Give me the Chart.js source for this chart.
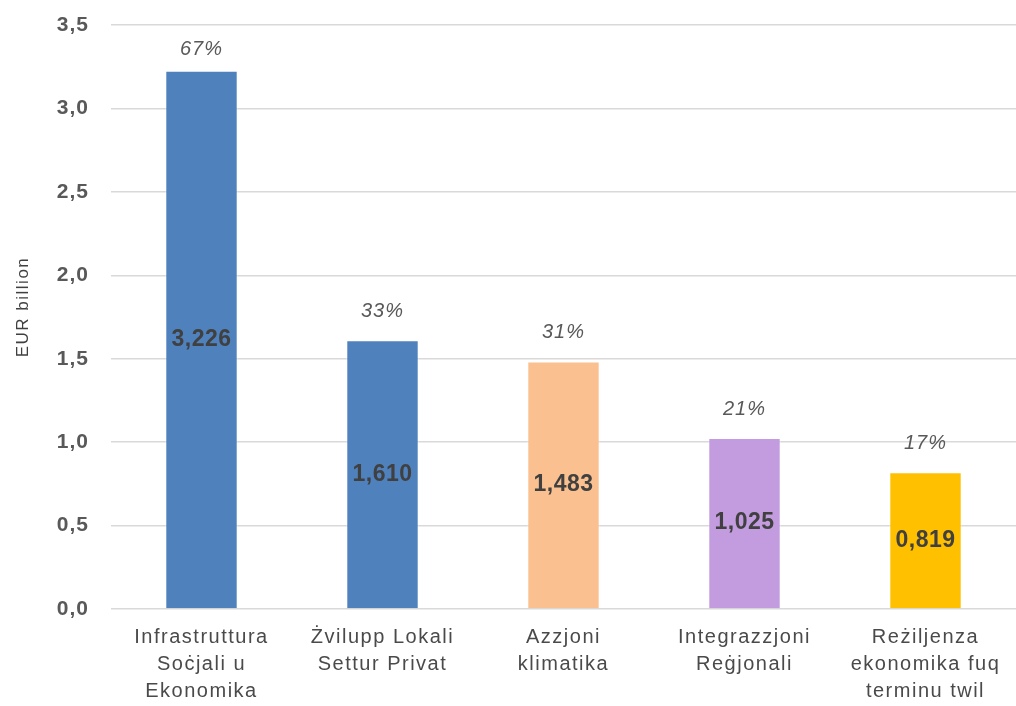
<!DOCTYPE html>
<html>
<head>
<meta charset="utf-8">
<script src="https://cdn.jsdelivr.net/npm/chart.js@4/dist/chart.umd.min.js"></script>
<style>
html,body{margin:0;padding:0;background:#fff;}
#wrap{width:1016px;height:706px;}
</style>
</head>
<body>
<div id="wrap"><canvas id="c" width="1016" height="706"></canvas></div>
<script>
const categories = [
  ["Infrastruttura", "Soċjali u", "Ekonomika"],
  ["Żvilupp Lokali", "Settur Privat"],
  ["Azzjoni", "klimatika"],
  ["Integrazzjoni", "Reġjonali"],
  ["Reżiljenza", "ekonomika fuq", "terminu twil"]
];
const values = [3.226, 1.610, 1.483, 1.025, 0.819];
const valueLabels = ["3,226", "1,610", "1,483", "1,025", "0,819"];
const shares = ["67%", "33%", "31%", "21%", "17%"];
const barColors = ["#4F81BD", "#4F81BD", "#FAC090", "#C39BDF", "#FFC000"];
const yTitle = "EUR billion";

const FONT = "'Liberation Sans', Arial, sans-serif";

class SpacedCategory extends Chart.CategoryScale {
  drawLabels(area) {
    const ctx = this.ctx;
    ctx.save();
    ctx.letterSpacing = this.options.letterSpacing || '0px';
    super.drawLabels(area);
    ctx.restore();
  }
}
SpacedCategory.id = 'spacedCategory';
SpacedCategory.defaults = Chart.CategoryScale.defaults;

class SpacedLinear extends Chart.LinearScale {
  drawLabels(area) {
    const ctx = this.ctx;
    ctx.save();
    ctx.letterSpacing = this.options.letterSpacing || '0px';
    super.drawLabels(area);
    ctx.restore();
  }
  drawTitle() {
    const ctx = this.ctx;
    ctx.save();
    ctx.letterSpacing = this.options.titleLetterSpacing || '0px';
    ctx.translate(0, -10);
    super.drawTitle();
    ctx.restore();
  }
}
SpacedLinear.id = 'spacedLinear';
SpacedLinear.defaults = Chart.LinearScale.defaults;

Chart.register(SpacedCategory, SpacedLinear);

const barLabels = {
  id: 'barLabels',
  afterDatasetsDraw(chart) {
    const ctx = chart.ctx;
    const meta = chart.getDatasetMeta(0);
    ctx.save();
    ctx.textAlign = 'center';
    ctx.textBaseline = 'middle';
    meta.data.forEach((bar, i) => {
      const mid = (bar.y + bar.base) / 2;
      ctx.letterSpacing = '0.5px';
      ctx.font = "bold 23px " + FONT;
      ctx.fillStyle = '#404040';
      ctx.fillText(valueLabels[i], bar.x, mid);
      ctx.letterSpacing = '1px';
      ctx.font = "italic 20px " + FONT;
      ctx.fillStyle = '#595959';
      ctx.fillText(shares[i], bar.x, Math.max(bar.y - 29, 49));
    });
    ctx.restore();
  }
};

new Chart(document.getElementById('c'), {
  type: 'bar',
  data: {
    labels: categories,
    datasets: [{
      data: values,
      backgroundColor: barColors,
      borderColor: 'rgba(255,255,255,0.35)',
      borderWidth: 1,
      categoryPercentage: 1,
      barPercentage: 0.4
    }]
  },
  options: {
    responsive: false,
    animation: false,
    devicePixelRatio: 1,
    layout: { padding: { top: 25, right: 0, left: 0, bottom: 0 } },
    plugins: { legend: { display: false }, tooltip: { enabled: false } },
    scales: {
      x: {
        type: 'spacedCategory',
        letterSpacing: '1.5px',
        grid: { display: false, drawTicks: false },
        border: { display: false },
        ticks: {
          color: '#4a4a4a',
          font: { family: FONT, size: 20, lineHeight: 1.35 },
          padding: 15,
          maxRotation: 0,
          autoSkip: false
        },
        afterFit(s) { s.height = 97; s.paddingLeft = 0; s.paddingRight = 0; }
      },
      y: {
        type: 'spacedLinear',
        letterSpacing: '1px',
        titleLetterSpacing: '1.5px',
        min: 0, max: 3.5,
        grid: { color: '#D9D9D9', lineWidth: 1.5, drawTicks: false },
        border: { display: false },
        ticks: {
          stepSize: 0.5,
          color: '#595959',
          font: { family: FONT, size: 21, weight: 'bold' },
          padding: 22,
          callback: v => v.toFixed(1).replace('.', ',')
        },
        title: {
          display: true,
          text: yTitle,
          color: '#404040',
          font: { family: FONT, size: 17 },
          padding: { top: 13, bottom: 0 }
        },
        afterFit(s) { s.width = 111; s.paddingTop = 0; s.paddingBottom = 0; }
      }
    }
  },
  plugins: [barLabels]
});
</script>
</body>
</html>
